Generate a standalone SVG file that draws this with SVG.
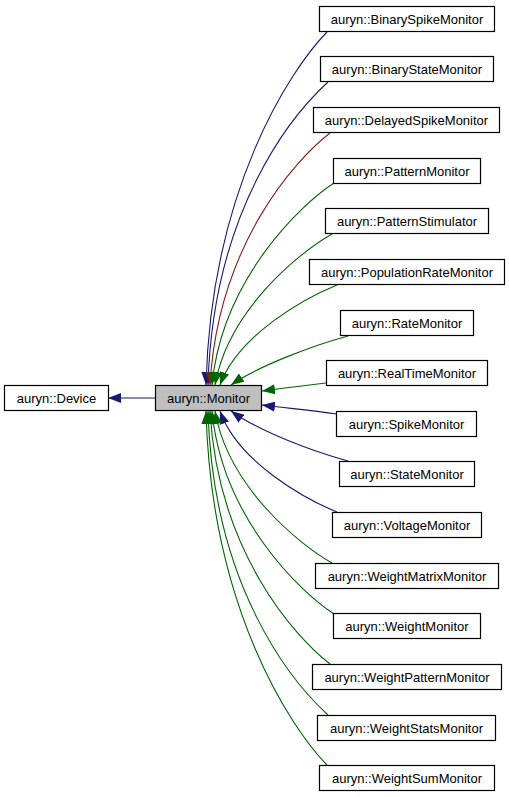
<svg xmlns="http://www.w3.org/2000/svg" width="509" height="797" viewBox="0 0 509 797">
<defs>
<style>
.n rect{fill:#ffffff;stroke:#000000;stroke-width:1.2}
.n text{font-family:"Liberation Sans",Arial,sans-serif;font-size:13px;fill:#000000;text-anchor:middle}
.cur rect{fill:#bfbfbf}
.e path{fill:none;stroke-width:1.1}
.b{stroke:#191970;marker-end:url(#ab)}
.g{stroke:#006400;marker-end:url(#ag)}
.r{stroke:#8b1a1a;marker-end:url(#ar)}
</style>
<marker id="ab" viewBox="0 0 13 10" refX="13" refY="5" markerWidth="13" markerHeight="10" markerUnits="userSpaceOnUse" orient="auto"><path d="M0,0 L13,5 L0,10 z" fill="#191970"/></marker>
<marker id="ag" viewBox="0 0 13 10" refX="13" refY="5" markerWidth="13" markerHeight="10" markerUnits="userSpaceOnUse" orient="auto"><path d="M0,0 L13,5 L0,10 z" fill="#006400"/></marker>
<marker id="ar" viewBox="0 0 13 10" refX="13" refY="5" markerWidth="13" markerHeight="10" markerUnits="userSpaceOnUse" orient="auto"><path d="M0,0 L13,5 L0,10 z" fill="#8b1a1a"/></marker>
</defs>
<rect width="509" height="797" fill="#ffffff"/>
<g id="edges" class="e">
<path class="b" d="M155,398 L108,398"/>
<path class="b" d="M327,32 C290,70 211,190 206,385"/>
<path class="b" d="M328,82 C292,115 213,210 208,385"/>
<path class="r" d="M330,133 C295,160 218,245 210,385"/>
<path class="g" d="M334,183 C300,205 222,280 212,385"/>
<path class="g" d="M332,234 C300,252 228,310 215,385"/>
<path class="g" d="M337,285 C305,298 238,335 220,385"/>
<path class="g" d="M348,336 C315,345 260,365 231,385"/>
<path class="g" d="M326,383 C300,386 285,388 262,391"/>
<path class="b" d="M337,414 C310,410 285,408 262,405"/>
<path class="b" d="M348,461 C315,452 260,432 231,411"/>
<path class="b" d="M337,512 C305,499 238,462 220,411"/>
<path class="g" d="M332,563 C300,545 228,487 215,411"/>
<path class="g" d="M334,614 C300,592 222,517 212,411"/>
<path class="g" d="M330,664 C295,637 218,552 210,411"/>
<path class="g" d="M328,715 C292,682 213,587 208,411"/>
<path class="g" d="M327,765 C290,727 211,607 206,411"/>
</g>
<g id="node-device" class="n"><rect x="4.5" y="385.5" width="104" height="25"/><text x="56.5" y="403">auryn::Device</text></g>
<g id="node-monitor" class="n cur"><rect x="155.5" y="385.5" width="106" height="25"/><text x="208.5" y="403">auryn::Monitor</text></g>
<g id="node-binaryspike" class="n"><rect x="319.5" y="6.5" width="175" height="25"/><text x="407" y="24">auryn::BinarySpikeMonitor</text></g>
<g id="node-binarystate" class="n"><rect x="320.5" y="56.5" width="173" height="25"/><text x="407" y="74">auryn::BinaryStateMonitor</text></g>
<g id="node-delayedspike" class="n"><rect x="313.5" y="107.5" width="186" height="25"/><text x="406.5" y="125">auryn::DelayedSpikeMonitor</text></g>
<g id="node-pattern" class="n"><rect x="333.5" y="158.5" width="147" height="25"/><text x="407" y="176">auryn::PatternMonitor</text></g>
<g id="node-patternstim" class="n"><rect x="325.5" y="208.5" width="163" height="25"/><text x="407" y="226">auryn::PatternStimulator</text></g>
<g id="node-poprate" class="n"><rect x="309.5" y="259.5" width="195" height="25"/><text x="407" y="277">auryn::PopulationRateMonitor</text></g>
<g id="node-rate" class="n"><rect x="340.5" y="310.5" width="133" height="25"/><text x="407" y="328">auryn::RateMonitor</text></g>
<g id="node-realtime" class="n"><rect x="326.5" y="360.5" width="161" height="25"/><text x="407" y="378">auryn::RealTimeMonitor</text></g>
<g id="node-spike" class="n"><rect x="336.5" y="411.5" width="140" height="25"/><text x="406.5" y="429">auryn::SpikeMonitor</text></g>
<g id="node-state" class="n"><rect x="339.5" y="461.5" width="135" height="25"/><text x="407" y="479">auryn::StateMonitor</text></g>
<g id="node-voltage" class="n"><rect x="332.5" y="512.5" width="149" height="25"/><text x="407" y="530">auryn::VoltageMonitor</text></g>
<g id="node-weightmatrix" class="n"><rect x="315.5" y="563.5" width="183" height="25"/><text x="407" y="581">auryn::WeightMatrixMonitor</text></g>
<g id="node-weight" class="n"><rect x="333.5" y="613.5" width="147" height="25"/><text x="407" y="631">auryn::WeightMonitor</text></g>
<g id="node-weightpattern" class="n"><rect x="312.5" y="664.5" width="189" height="25"/><text x="407" y="682">auryn::WeightPatternMonitor</text></g>
<g id="node-weightstats" class="n"><rect x="317.5" y="715.5" width="178" height="25"/><text x="406.5" y="733">auryn::WeightStatsMonitor</text></g>
<g id="node-weightsum" class="n"><rect x="319.5" y="765.5" width="175" height="25"/><text x="407" y="783">auryn::WeightSumMonitor</text></g>
</svg>
